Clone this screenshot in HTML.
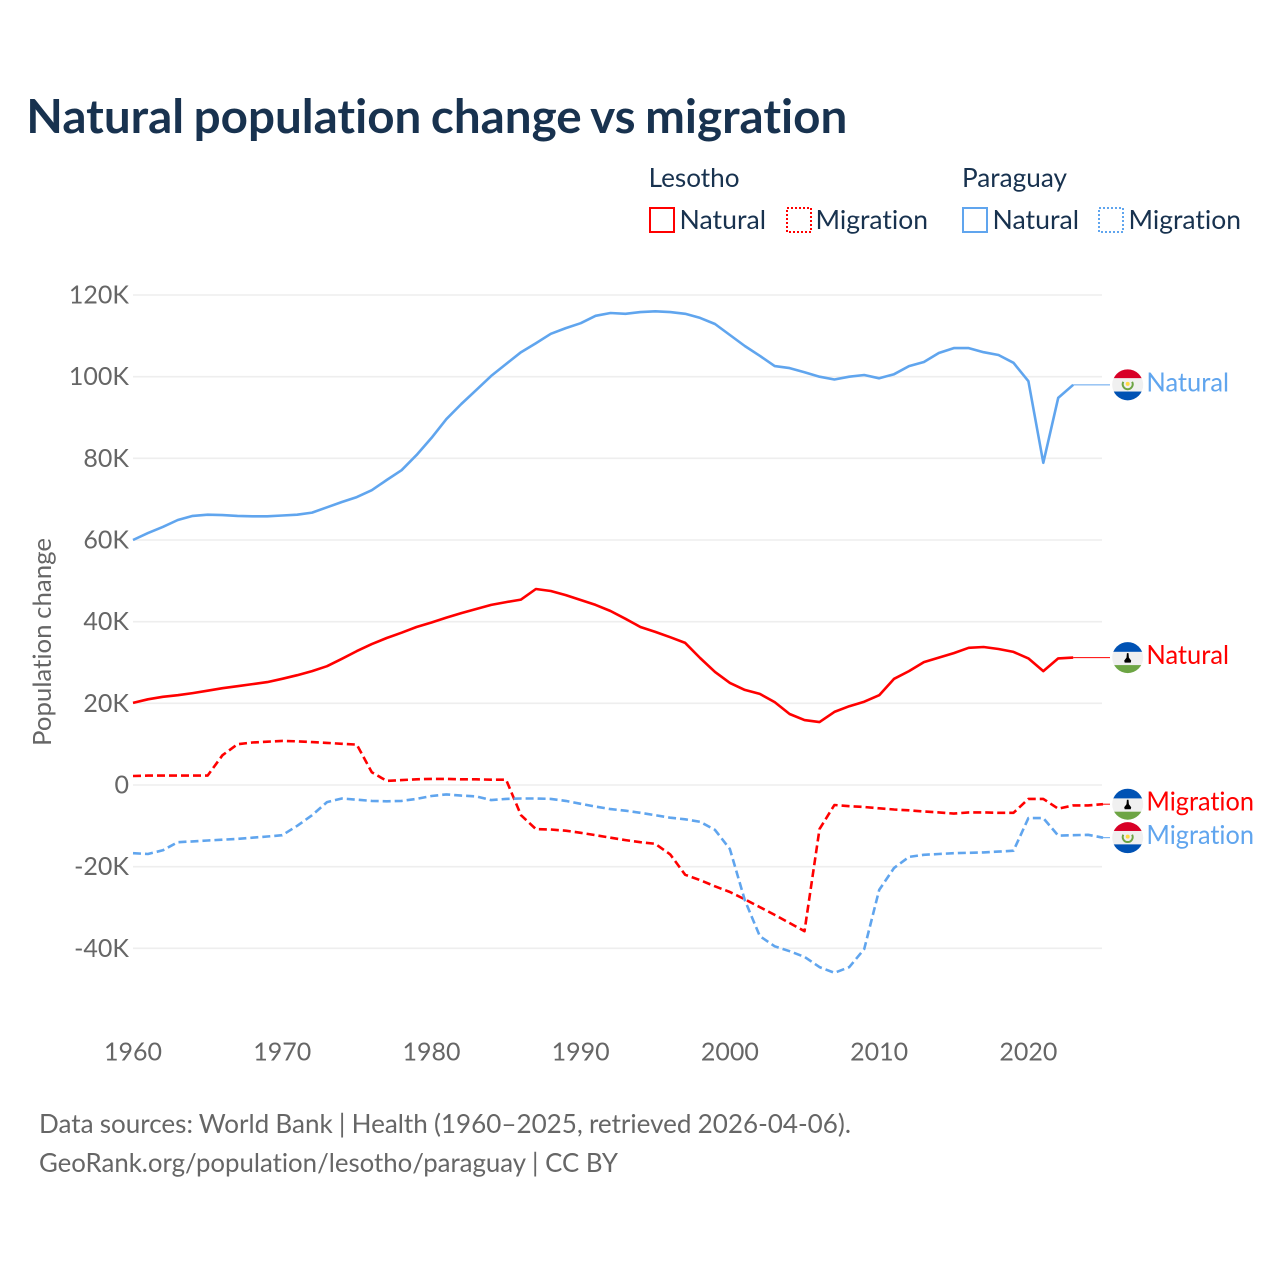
<!DOCTYPE html>
<html lang="en">
<head>
<meta charset="utf-8">
<title>Natural population change vs migration</title>
<style>
html,body{margin:0;padding:0;background:#fff;}
svg{display:block;}
text{font-family:"Lato","Carlito","Liberation Sans",sans-serif;font-variant-ligatures:none;font-feature-settings:"liga" 0,"clig" 0;}
</style>
</head>
<body>
<svg id="chart" xmlns="http://www.w3.org/2000/svg" width="1280" height="1280" viewBox="0 0 1280 1280">
  <defs>
    <clipPath id="flag-clip"><circle cx="0" cy="0" r="15.5"/></clipPath>
    <g id="flag-lesotho" clip-path="url(#flag-clip)">
      <rect x="-16" y="-16" width="32" height="32" fill="#f0f0f0"/>
      <rect x="-16" y="-16" width="32" height="10.2" fill="#0052b4"/>
      <rect x="-16" y="7.5" width="32" height="9" fill="#6da544"/>
      <path d="M-0.8-4.5 L0.8-4.5 L1.2 0 L3.5 3 L3 5 L-3 5 L-3.5 3 L-1.2 0Z" fill="#000"/>
    </g>
    <g id="flag-paraguay" clip-path="url(#flag-clip)">
      <rect x="-16" y="-16" width="32" height="32" fill="#f0f0f0"/>
      <rect x="-16" y="-16" width="32" height="9.3" fill="#d80027"/>
      <rect x="-16" y="6.7" width="32" height="9.3" fill="#0052b4"/>
      <path d="M-4.4-3 A5 5 0 1 0 4.4-3" fill="none" stroke="#6da544" stroke-width="2"/>
      <circle cx="0" cy="-1" r="2" fill="#ffda44"/>
    </g>
  </defs>

  <text x="26.3" y="133" font-size="47" font-weight="700" fill="#18324f" word-spacing="-2" textLength="821" lengthAdjust="spacingAndGlyphs">Natural population change vs migration</text>

  <g font-size="26" fill="#18324f">
    <text x="648.6" y="187" textLength="91" lengthAdjust="spacingAndGlyphs">Lesotho</text>
    <text x="962" y="187" textLength="105" lengthAdjust="spacingAndGlyphs">Paraguay</text>

    <rect x="650" y="208" width="24" height="24" fill="none" stroke="#ff0000" stroke-width="2"/>
    <text x="679.5" y="229" textLength="86.5" lengthAdjust="spacingAndGlyphs">Natural</text>

    <rect x="787" y="208" width="24" height="24" fill="none" stroke="#ff0000" stroke-width="2" stroke-dasharray="2 2"/>
    <text x="815.5" y="229" textLength="112.5" lengthAdjust="spacingAndGlyphs">Migration</text>

    <rect x="963" y="208" width="24" height="24" fill="none" stroke="#60a5ee" stroke-width="2"/>
    <text x="992.5" y="229" textLength="86.5" lengthAdjust="spacingAndGlyphs">Natural</text>

    <rect x="1099" y="208" width="24" height="24" fill="none" stroke="#60a5ee" stroke-width="2" stroke-dasharray="2 2"/>
    <text x="1128.5" y="229" textLength="112.5" lengthAdjust="spacingAndGlyphs">Migration</text>
  </g>

  <g id="grid"></g>
  <g id="y-axis"></g>
  <g id="x-axis"></g>

  <text transform="translate(51,746) rotate(-90)" font-size="25" fill="#666666" word-spacing="-1" textLength="208" lengthAdjust="spacingAndGlyphs">Population change</text>

  <g id="series"></g>
  <g id="end-labels"></g>

  <text x="39" y="1133" font-size="26" fill="#666666" word-spacing="-0.5" textLength="812" lengthAdjust="spacingAndGlyphs">Data sources: World Bank | Health (1960–2025, retrieved 2026-04-06).</text>
  <text x="39" y="1172" font-size="26" fill="#666666" textLength="579" lengthAdjust="spacingAndGlyphs">GeoRank.org/population/lesotho/paraguay | CC BY</text>
</svg>

<script>
const years = [1960,1961,1962,1963,1964,1965,1966,1967,1968,1969,1970,1971,1972,1973,1974,1975,1976,1977,1978,1979,1980,1981,1982,1983,1984,1985,1986,1987,1988,1989,1990,1991,1992,1993,1994,1995,1996,1997,1998,1999,2000,2001,2002,2003,2004,2005,2006,2007,2008,2009,2010,2011,2012,2013,2014,2015,2016,2017,2018,2019,2020,2021,2022,2023,2024,2025];
const yTickValues = [120,100,80,60,40,20,0,-20,-40];
const yTickLabels = ['120K','100K','80K','60K','40K','20K','0','-20K','-40K'];
const xTickValues = [1960,1970,1980,1990,2000,2010,2020];
const xTickLabels = ['1960','1970','1980','1990','2000','2010','2020'];

// Values in thousands of people
const paraguayNatural = [60.0,61.7,63.2,64.9,65.9,66.2,66.1,65.9,65.8,65.8,66.0,66.2,66.7,68.0,69.3,70.5,72.2,74.7,77.1,80.8,85.0,89.6,93.3,96.7,100.2,103.1,106.0,108.2,110.5,111.9,113.1,114.9,115.6,115.4,115.8,116.0,115.8,115.4,114.4,112.9,110.2,107.5,105.1,102.6,102.1,101.1,100.0,99.3,100.0,100.4,99.6,100.6,102.6,103.6,105.8,107.0,107.0,106.0,105.3,103.4,98.9,78.9,94.8,98.0];
const lesothoNatural = [20.1,21.0,21.6,22.0,22.5,23.1,23.7,24.2,24.7,25.2,26.0,26.9,27.9,29.1,30.9,32.8,34.5,36.0,37.3,38.7,39.8,41.0,42.1,43.1,44.1,44.8,45.4,48.0,47.5,46.5,45.3,44.1,42.6,40.7,38.7,37.5,36.2,34.8,31.1,27.7,25.0,23.3,22.3,20.3,17.4,15.9,15.4,17.9,19.3,20.4,22.0,26.0,27.9,30.1,31.2,32.3,33.6,33.8,33.3,32.6,31.0,27.9,31.0,31.2];
const lesothoMigration = [2.2,2.3,2.3,2.3,2.3,2.3,7.3,10.0,10.4,10.6,10.8,10.7,10.5,10.3,10.1,9.9,3.1,1.0,1.2,1.4,1.5,1.5,1.4,1.4,1.3,1.3,-7.4,-10.8,-10.9,-11.2,-11.7,-12.3,-12.9,-13.5,-14.0,-14.4,-17.0,-22.0,-23.3,-24.8,-26.2,-28.0,-29.9,-31.8,-33.8,-35.8,-10.8,-4.9,-5.2,-5.4,-5.7,-6.0,-6.2,-6.5,-6.7,-7.0,-6.7,-6.7,-6.8,-6.8,-3.4,-3.4,-5.8,-5.0,-5.0,-4.7];
const paraguayMigration = [-16.7,-16.9,-16.0,-14.0,-13.8,-13.6,-13.4,-13.2,-12.9,-12.6,-12.3,-10.0,-7.4,-4.2,-3.3,-3.6,-3.9,-4.0,-3.9,-3.4,-2.7,-2.3,-2.6,-2.8,-3.7,-3.4,-3.3,-3.3,-3.4,-3.9,-4.6,-5.3,-5.9,-6.3,-6.8,-7.4,-8.0,-8.4,-9.0,-11.0,-15.7,-28.2,-37.0,-39.5,-40.7,-42.1,-44.6,-46.0,-44.6,-40.2,-25.7,-20.3,-17.6,-17.1,-16.9,-16.7,-16.6,-16.5,-16.3,-16.1,-8.1,-8.1,-12.4,-12.3,-12.2,-12.9];

const seriesList = [
  {name:'paraguay-natural', label:'Natural', values:paraguayNatural, color:'#60a5ee', dashed:false, flag:'flag-paraguay'},
  {name:'lesotho-natural', label:'Natural', values:lesothoNatural, color:'#ff0000', dashed:false, flag:'flag-lesotho'},
  {name:'lesotho-migration', label:'Migration', values:lesothoMigration, color:'#ff0000', dashed:true, flag:'flag-lesotho'},
  {name:'paraguay-migration', label:'Migration', values:paraguayMigration, color:'#60a5ee', dashed:true, flag:'flag-paraguay'}
];

const NS = 'http://www.w3.org/2000/svg';
const plotLeft = 133, plotRight = 1103;
function xScale(year){ return plotLeft + (year - 1960) * (plotRight - plotLeft) / 65; }
function yScale(v){ return 785 - v * 490 / 120; }
function make(tag, parent, attrs){
  const el = document.createElementNS(NS, tag);
  for (const k in attrs) el.setAttribute(k, attrs[k]);
  parent.appendChild(el);
  return el;
}

const grid = document.getElementById('grid');
const yAxis = document.getElementById('y-axis');
const xAxis = document.getElementById('x-axis');
yTickValues.forEach(function(v, i){
  const line = make('line', grid, {x1:plotLeft, x2:plotRight - 1, y1:yScale(v), y2:yScale(v), stroke:'#eeeeee', 'stroke-width':1.6});
  
  
  const t = make('text', yAxis, {x:129, y:yScale(v) + 8.5, 'text-anchor':'end', 'font-size':25, fill:'#666666'});
  t.textContent = yTickLabels[i];
  
  
});
xTickValues.forEach(function(yr, i){
  const t = make('text', xAxis, {x:xScale(yr), y:1060.5, 'text-anchor':'middle', 'font-size':25, fill:'#666666'});
  t.textContent = xTickLabels[i];
  
  
});

const seriesGroup = document.getElementById('series');
const labelsGroup = document.getElementById('end-labels');
seriesList.forEach(function(s){
  const d = s.values.map(function(v, i){
    return (i ? 'L' : 'M') + xScale(years[i]).toFixed(1) + ' ' + yScale(v).toFixed(1);
  }).join('');
  const path = make('path', seriesGroup, {d:d, fill:'none', stroke:s.color, 'stroke-width':2.6, 'stroke-linejoin':'round'});
  if (s.dashed) path.setAttribute('stroke-dasharray', '8 4');
  
  

  const lastIndex = s.values.length - 1;
  const endX = xScale(years[lastIndex]);
  const endY = yScale(s.values[lastIndex]);
  const leader = make('line', labelsGroup, {x1:endX, x2:1110, y1:endY, y2:endY, stroke:s.color, 'stroke-width':1});
  
  

  const flag = make('use', labelsGroup, {href:'#' + s.flag, transform:'translate(1127.7,' + endY + ')'});
  
  

  const label = make('text', labelsGroup, {x:1146.4, y:endY + 6.5, 'font-size':26, fill:s.color, textLength:s.label === 'Natural' ? 82.6 : 107.6, lengthAdjust:'spacingAndGlyphs'});
  label.textContent = s.label;
  
  
});
</script>
</body>
</html>
